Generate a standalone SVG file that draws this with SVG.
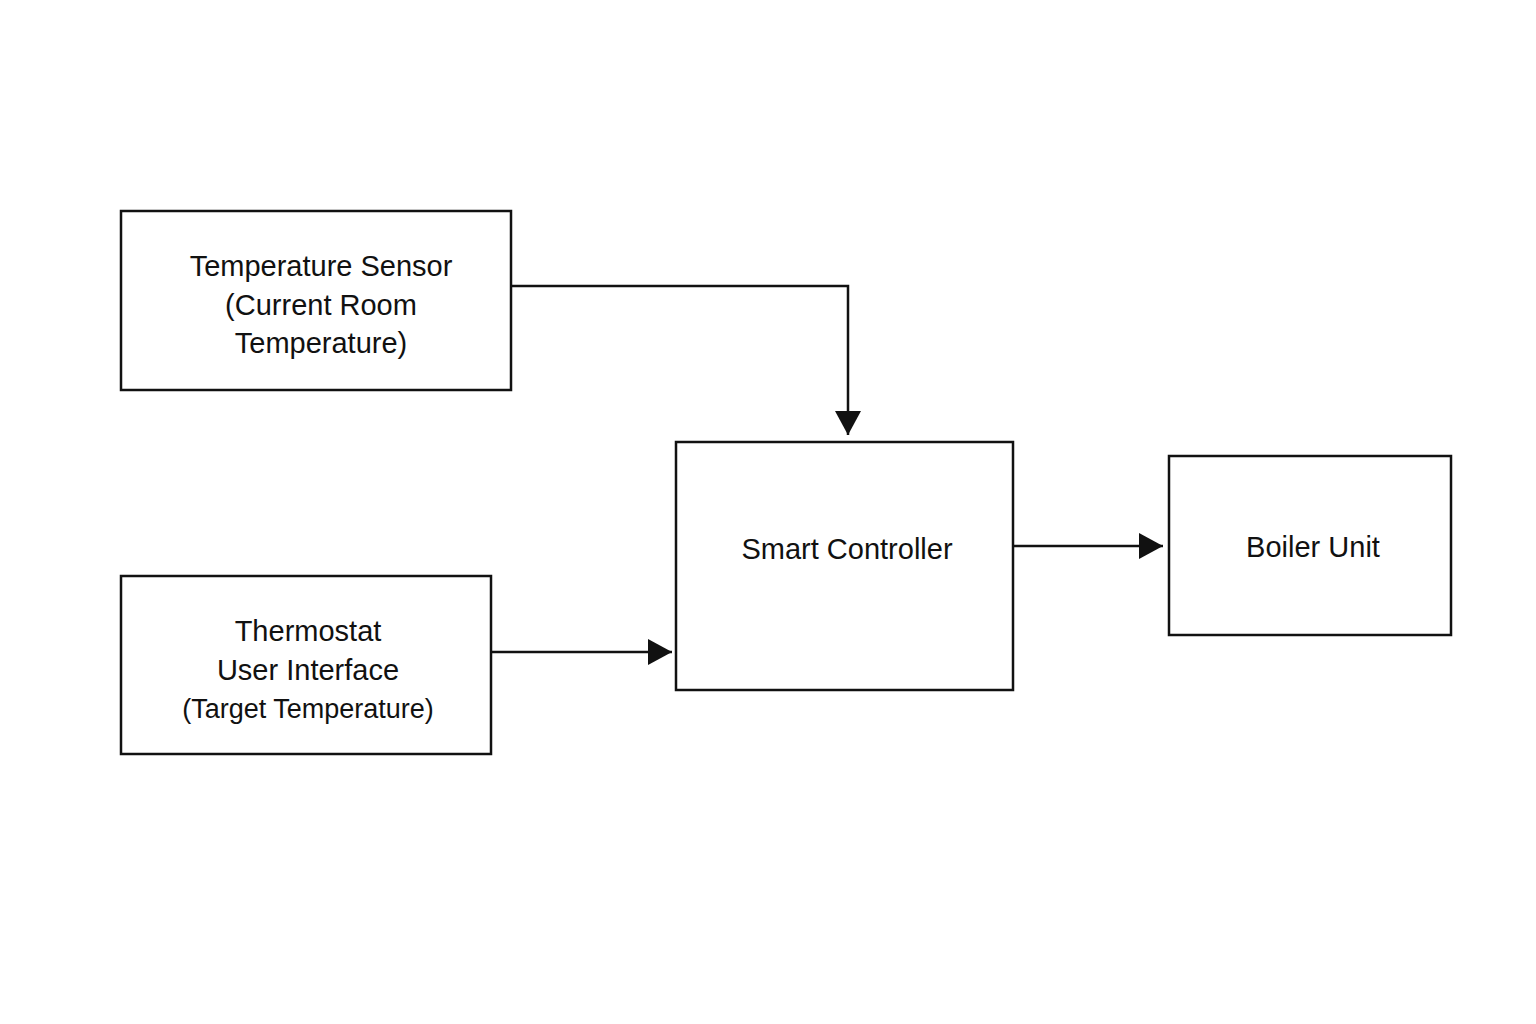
<svg xmlns="http://www.w3.org/2000/svg" width="1536" height="1024" viewBox="0 0 1536 1024">
<style>
.box{fill:#fff;stroke:#111;stroke-width:2.5}
.t{font-family:"Liberation Sans",Arial,sans-serif;font-size:29px;fill:#111;text-anchor:middle}
.s{font-size:27px}
.c{fill:none;stroke:#111;stroke-width:2.5}
</style>
<defs><marker id="a" markerUnits="userSpaceOnUse" markerWidth="26" markerHeight="26" refX="24" refY="13" orient="auto"><path d="M0,0 L24,13 L0,26 Z" fill="#111"/></marker></defs>
<rect width="1536" height="1024" fill="#fff"/>
<g id="connectors">
<path class="c" d="M511,286 H848 V435" marker-end="url(#a)"/>
<path class="c" d="M491,652 H672" marker-end="url(#a)"/>
<path class="c" d="M1013,546 H1163" marker-end="url(#a)"/>
</g>
<g id="sensor"><rect class="box" x="121" y="211" width="390" height="179"/>
<text class="t" x="321" y="276">Temperature Sensor</text>
<text class="t" x="321" y="315">(Current Room</text>
<text class="t" x="321" y="353">Temperature)</text></g>
<g id="thermostat"><rect class="box" x="121" y="576" width="370" height="178"/>
<text class="t" x="308" y="641">Thermostat</text>
<text class="t" x="308" y="680">User Interface</text>
<text class="t s" x="308" y="718">(Target Temperature)</text></g>
<g id="controller"><rect class="box" x="676" y="442" width="337" height="248"/>
<text class="t" x="847" y="559">Smart Controller</text></g>
<g id="boiler"><rect class="box" x="1169" y="456" width="282" height="179"/>
<text class="t" x="1313" y="557">Boiler Unit</text></g>
</svg>
